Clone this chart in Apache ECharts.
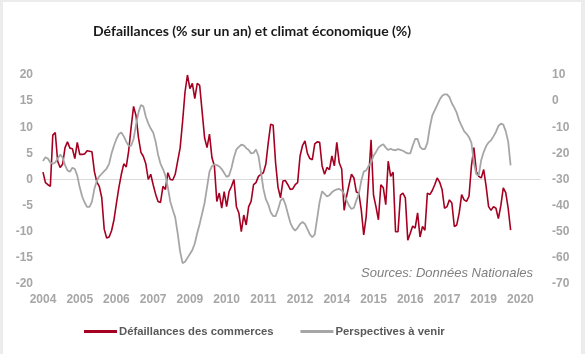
<!DOCTYPE html>
<html>
<head>
<meta charset="utf-8">
<script src="https://cdn.jsdelivr.net/npm/echarts@6/dist/echarts.min.js"></script>
<style>
  html, body { margin: 0; padding: 0; background: #ececec; }
  #wrap { position: relative; width: 585px; height: 354px; overflow: hidden; }
  #chart { position: absolute; left: 3px; top: 2px; width: 578px; height: 352px; background: #fff; }
</style>
</head>
<body>
<div id="wrap"><div id="chart"></div></div>
<script>
// mois de janvier 2004 à décembre 2020
var annees = [];
for (var a = 2004; a <= 2020; a++) annees.push(a);
var mois = [];
annees.forEach(function (a) {
    for (var m = 1; m <= 12; m++) mois.push(a + '-' + m);
});

// Défaillances des commerces (% sur un an), axe de gauche
var defaillances = [
    1.4, -0.6, -1.0, -1.3, 8.5, 9.0, 3.5, 2.3, 2.9, 6.1, 7.2, 6.0,
    5.9, 4.0, 7.1, 4.8, 4.8, 4.9, 5.5, 5.4, 5.3, 1.5, -0.5, -1.3,
    -3.5, -9.5, -11.2, -11.0, -9.8, -7.7, -4.5, -1.5, 1.0, 3.0, 2.4, 5.5,
    10.0, 14.0, 12.2, 8.0, 5.2, 4.4, 3.0, 0.0, 1.0, -1.0, -2.8, -4.2,
    -4.4, -1.3, -1.9, 1.3, 0.0, -0.1, 1.0, 3.5, 6.0, 11.0, 16.7, 20.0,
    17.4, 18.4, 15.5, 18.4, 18.0, 13.0, 8.0, 6.1, 8.7, 4.2, 2.6, -4.2,
    -2.6, -5.5, -2.3, -5.2, -2.3, -1.3, 0.0, -5.2, -6.4, -10.0, -6.8, -8.7,
    -5.2, -4.2, -1.0, -0.6, 0.6, 1.0, 1.3, 2.9, 7.0, 10.6, 10.4, 3.2,
    -1.5, -3.5, -0.3, -0.2, -1.0, -1.9, -1.8, -1.0, -0.6, 4.5, 6.5, 7.4,
    5.0, 4.0, 3.8, 6.8, 7.2, 7.1, 2.6, 1.0, 2.3, 1.9, 4.5, 2.6,
    7.1, 3.2, 2.0, -5.9, -3.2, -1.0, 1.0, 0.3, -2.4, -2.6, -5.8, -10.6,
    -7.1, 0.0, 7.6, -3.0, -5.2, -7.7, -1.0, -1.6, -4.8, 3.5, 0.6, 1.4,
    -10.0, -10.0, -3.0, -2.6, -3.5, -11.6, -10.3, -8.9, -9.3, -6.4, -11.0, -9.0,
    -9.7, -2.6, -2.9, -2.1, -1.0, 0.3, -0.5, -1.9, -5.5, -5.2, -3.9, -4.5,
    -9.0, -8.7, -6.4, -2.9, -3.9, -4.2, -3.2, 2.6, 6.1, 1.5, 0.6, 0.3,
    1.9, -1.3, -5.2, -5.9, -5.2, -5.5, -7.5, -5.0, -1.6, -2.5, -5.5, -9.7
];

// Perspectives à venir (%), axe de droite
var perspectives = [
    -22.9, -21.5, -22.0, -23.5, -24.0, -23.5, -22.0, -20.5, -21.5, -24.5, -26.5, -27.0,
    -25.5, -26.0, -28.5, -33.0, -36.5, -38.8, -40.5, -40.5, -38.5, -33.5, -30.5, -28.8,
    -27.8, -26.8, -25.8, -24.0, -20.0, -17.0, -14.5, -12.6, -12.0, -13.5, -15.5, -17.1,
    -17.1, -14.5, -9.0, -4.3, -1.5, -2.0, -6.0, -8.5, -10.5, -12.0, -15.5, -20.5,
    -24.0, -26.0, -28.5, -33.0, -38.5, -41.6, -44.5, -50.5, -57.5, -62.0, -61.5, -60.0,
    -58.5, -57.0, -54.5, -50.5, -47.0, -43.0, -39.0, -33.0, -27.0, -24.9, -24.2, -24.5,
    -25.0, -26.0, -27.5, -29.0, -28.5, -25.5, -21.5, -18.5, -17.5, -16.7, -16.9, -18.0,
    -18.7, -20.0, -19.8, -18.5, -21.0, -27.0, -33.5, -37.5, -39.5, -42.5, -44.0, -44.0,
    -41.5, -38.2, -37.1, -39.5, -43.0, -46.5, -48.5, -49.6, -48.5, -47.0, -46.3, -47.0,
    -49.0, -51.0, -52.1, -51.0, -44.8, -38.5, -34.5, -35.5, -36.5, -36.0, -34.9, -34.2,
    -33.8, -33.6, -34.2, -35.5, -38.0, -40.0, -41.3, -40.8, -38.0, -35.5, -30.5, -27.0,
    -26.5, -24.8, -23.5, -21.0, -19.5, -17.8, -17.0, -16.5, -17.8, -18.7, -18.2, -18.7,
    -18.8, -18.4, -18.7, -19.0, -19.6, -20.0, -20.0, -17.1, -14.5, -14.5, -17.5, -18.4,
    -18.4, -16.0, -10.0, -5.5, -3.5, -1.5, 0.5, 2.0, 2.6, 2.6, 1.5, -0.8,
    -2.5, -4.5, -7.5, -9.5, -11.5, -12.5, -13.8, -16.0, -23.6, -28.0, -28.3, -22.5,
    -19.5, -17.2, -15.8, -15.0, -13.5, -11.8, -9.6, -8.6, -9.0, -11.5, -15.5, -24.6
];

var couleurRouge = '#a50021';
var couleurGris = '#a6a6a6';
var couleurTexte = '#a6a6a6';

var myChart = echarts.init(document.getElementById('chart'));
var option = {
    animation: false,
    title: {
        text: 'Défaillances (% sur un an) et climat économique (%)',
        left: 85,
        top: 17,
        textStyle: {
            fontFamily: 'Lato',
            fontSize: 14,
            fontWeight: 'bold',
            color: '#1a1a1a'
        }
    },
    legend: {
        left: 76,
        top: 319,
        icon: 'rect',
        itemWidth: 33,
        itemHeight: 3,
        itemGap: 27,
        textStyle: {
            fontFamily: 'Liberation Sans',
            fontSize: 11.3,
            fontWeight: 'bold',
            color: '#595959',
            padding: [0, 0, 0, -3]
        },
        data: ['Défaillances des commerces', 'Perspectives à venir']
    },
    grid: {
        left: 40,
        right: 41,
        top: 73,
        bottom: 70
    },
    graphic: [{
        type: 'text',
        right: 48,
        top: 265,
        style: {
            text: 'Sources: Données Nationales',
            fontFamily: 'Liberation Sans',
            fontStyle: 'italic',
            fontSize: 13,
            fill: '#7f7f7f'
        }
    }],
    xAxis: {
        type: 'category',
        data: mois,
        boundaryGap: false,
        axisLine: { onZero: true, lineStyle: { color: '#d9d9d9', width: 1 } },
        axisTick: { show: false },
        splitLine: { show: false },
        axisLabel: {
            interval: 14,
            margin: 10,
            formatter: function (v) { return v.split('-')[0]; },
            fontFamily: 'Liberation Sans',
            fontSize: 12,
            fontWeight: 'bold',
            color: couleurTexte
        }
    },
    yAxis: [{
        type: 'value',
        min: -20,
        max: 20,
        interval: 5,
        axisLine: { show: false },
        axisTick: { show: false },
        splitLine: { show: false },
        axisLabel: {
            margin: 10,
            fontFamily: 'Liberation Sans',
            fontSize: 12,
            fontWeight: 'bold',
            color: couleurTexte
        }
    }, {
        type: 'value',
        min: -70,
        max: 10,
        interval: 10,
        axisLine: { show: false },
        axisTick: { show: false },
        splitLine: { show: false },
        axisLabel: {
            margin: 12,
            fontFamily: 'Liberation Sans',
            fontSize: 12,
            fontWeight: 'bold',
            color: couleurTexte
        }
    }],
    series: [{
        name: 'Défaillances des commerces',
        type: 'line',
        yAxisIndex: 0,
        data: defaillances,
        symbol: 'none',
        lineStyle: { color: couleurRouge, width: 1.6 },
        itemStyle: { color: couleurRouge }
    }, {
        name: 'Perspectives à venir',
        type: 'line',
        yAxisIndex: 1,
        data: perspectives,
        symbol: 'none',
        lineStyle: { color: couleurGris, width: 1.8 },
        itemStyle: { color: couleurGris }
    }]
};
myChart.setOption(option);
</script>
</body>
</html>
